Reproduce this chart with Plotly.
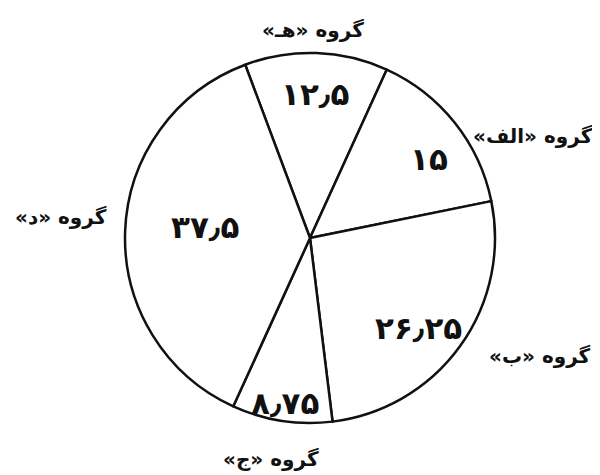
import math
import plotly.graph_objects as go

# Data
groups = ["گروه «هـ»", "گروه «الف»", "گروه «ب»", "گروه «ج»", "گروه «د»"]
values = [12.5, 15, 26.25, 8.75, 37.5]
value_labels = ["۱۲٫۵", "۱۵", "۲۶٫۲۵", "۸٫۷۵", "۳۷٫۵"]

# label placement (style only): angle nudge in degrees, radius as fraction of R
label_nudge = [-1, 6, -2, 2, 4]
label_rad = [1.05, 1.03, 1.15, 1.14, 1.09]
value_rad = [0.78, 0.77, 0.76, 0.9, 0.57]
value_nudge = [0, 5, 4, 0, 4]
rotation_offset = 2

RLM = "\u200f"
total = sum(values)
# first slice roughly centred at 12 o'clock
rotation = -values[0] / total * 360 / 2 + rotation_offset

fig = go.Figure()
fig.add_trace(go.Pie(
    labels=groups,
    values=values,
    textinfo="none",
    marker=dict(colors=["white"] * len(values), line=dict(color="#111111", width=2.5)),
    sort=False,
    direction="clockwise",
    rotation=rotation,
    showlegend=False,
    hoverinfo="label+value",
))

W, H = 600, 475
m = dict(l=4, r=0, t=45, b=60)
pw = W - m["l"] - m["r"]
ph = H - m["t"] - m["b"]
R = min(pw, ph) / 2


def to_paper(deg, k):
    a = math.radians(deg)
    return 0.5 + k * R * math.sin(a) / pw, 0.5 + k * R * math.cos(a) / ph


acc = 0
for i, (g, v, t) in enumerate(zip(groups, values, value_labels)):
    mid = rotation + (acc + v / 2) / total * 360
    acc += v

    # value inside slice
    x, y = to_paper(mid + value_nudge[i], value_rad[i])
    fig.add_annotation(
        x=x, y=y, xref="paper", yref="paper", text="<b>" + t + "</b>",
        showarrow=False, xanchor="center", yanchor="middle",
        font=dict(family="DejaVu Sans", size=31, color="#111111"),
    )

    # group name outside
    ang = mid + label_nudge[i]
    x, y = to_paper(ang, label_rad[i])
    sx, cy = math.sin(math.radians(ang)), math.cos(math.radians(ang))
    xa = "left" if sx > 0.3 else ("right" if sx < -0.3 else "center")
    ya = "bottom" if cy > 0.8 else ("top" if cy < -0.8 else "middle")
    fig.add_annotation(
        x=x, y=y, xref="paper", yref="paper",
        text="<b>" + RLM + g + RLM + "</b>", showarrow=False,
        xanchor=xa, yanchor=ya,
        font=dict(family="DejaVu Sans", size=20, color="#111111"),
    )

fig.update_layout(
    width=W, height=H,
    margin=m,
    paper_bgcolor="white",
    plot_bgcolor="white",
)

fig.write_html("out.html")
